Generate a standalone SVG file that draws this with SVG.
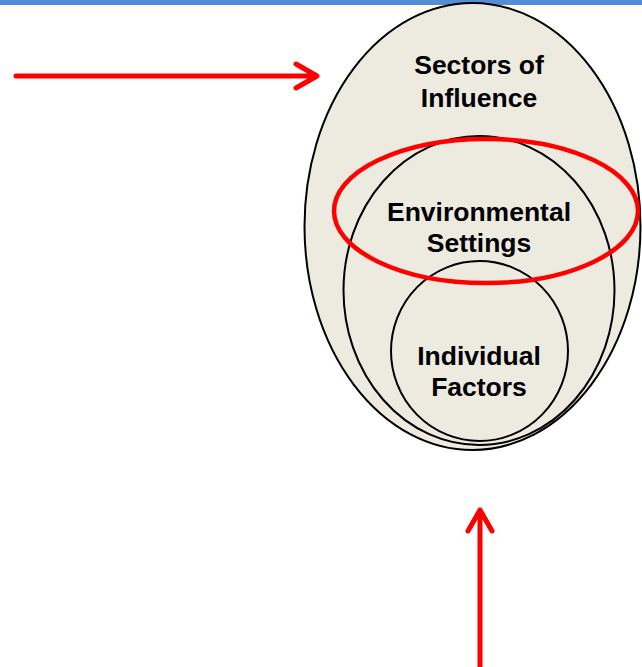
<svg xmlns="http://www.w3.org/2000/svg" width="642" height="667" viewBox="0 0 642 667">
<style>
.n{fill:#EDEBE0;stroke:#000;stroke-width:2}
.t{font-family:"Liberation Sans",Arial,sans-serif;font-weight:bold;font-size:26.5px;text-anchor:middle;fill:#000}
.a{fill:none;stroke:#FF0000;stroke-width:5;stroke-linecap:round;stroke-linejoin:round}
</style>
<rect x="0" y="0" width="642" height="5" fill="#558ED5"/>
<g id="sectors"><ellipse class="n" cx="472.5" cy="226.5" rx="168" ry="223.5"/>
<text class="t" x="479" y="74">Sectors of</text><text class="t" x="479" y="107">Influence</text></g>
<g id="environmental"><ellipse class="n" cx="479" cy="290.5" rx="135.5" ry="154.5"/></g>
<g id="individual"><ellipse class="n" cx="479.5" cy="351" rx="88.5" ry="90"/>
<text class="t" x="479" y="365">Individual</text><text class="t" x="479" y="396">Factors</text></g>
<g id="envtext"><text class="t" x="479" y="221">Environmental</text><text class="t" x="479" y="252">Settings</text></g>
<g id="highlight"><ellipse cx="486" cy="211" rx="152" ry="72" fill="none" stroke="#FF0000" stroke-width="4.5"/></g>
<g id="connectors">
<path class="a" d="M16 76H316M296 64L317 76L296 88"/>
<path class="a" d="M480 667V510M468 531L480 510L492 531"/>
</g>
</svg>
